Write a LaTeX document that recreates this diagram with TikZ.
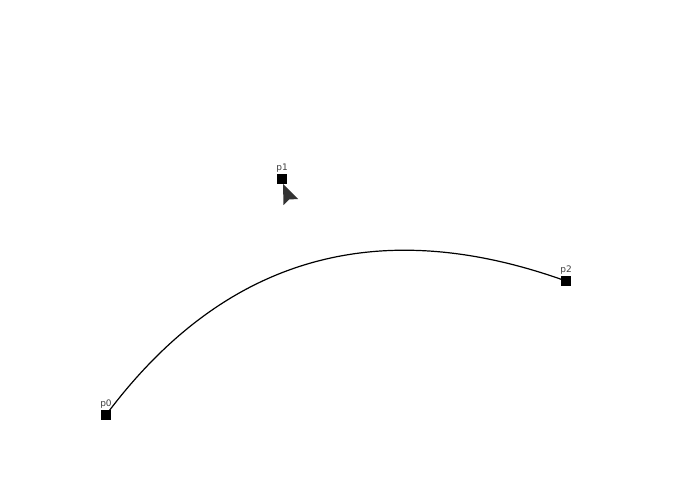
\documentclass[tikz,border=0pt]{standalone}
\usepackage{fontspec}
\setmainfont{DejaVu Sans}
\usetikzlibrary{calc}
\begin{document}
\begin{tikzpicture}[x=1pt,y=-1pt,
  handle/.style={draw=none,fill=black,minimum size=10pt,inner sep=0pt,rectangle},
  lbl/.style={font=\fontsize{9}{9}\selectfont,text=black!75,inner sep=0pt},
  curve/.style={line width=1.2pt,black}]
\useasboundingbox[fill=white] (0,0) rectangle (698,481);
\coordinate (c0) at (106,415);
\coordinate (c1) at (282,179);
\coordinate (c2) at (566,281);
\draw[curve] (c0) .. controls ($(c0)!2/3!(c1)$) and ($(c2)!2/3!(c1)$) .. (c2);
\node[handle] (p0) at (c0) {};
\node[handle] (p1) at (c1) {};
\node[handle] (p2) at (c2) {};
\node[lbl,above=1.5pt] (l0) at (p0.north) {p0};
\node[lbl,above=1.5pt] (l1) at (p1.north) {p1};
\node[lbl,above=1.5pt] (l2) at (p2.north) {p2};
\fill[black!80] (283,184) -- (283.5,205) -- (289,199.5) -- (298,199) -- cycle;
\end{tikzpicture}
\end{document}
